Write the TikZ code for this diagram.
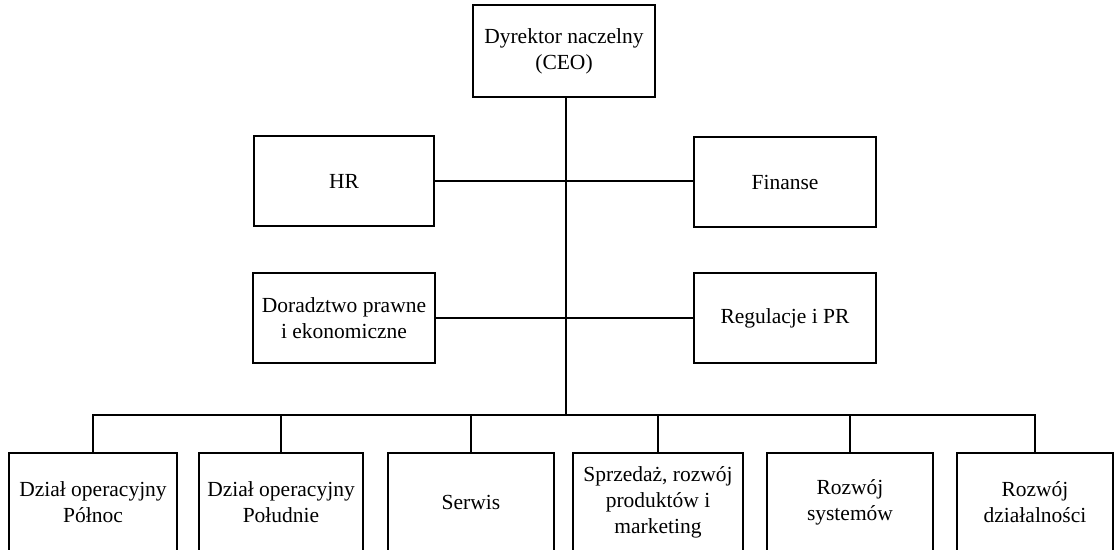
\documentclass[tikz,border=0pt]{standalone}
\usepackage{fontspec}
\setmainfont{Liberation Serif}
\begin{document}
\begin{tikzpicture}[x=1pt,y=-1pt,
  box/.style={draw,rectangle,line width=1.4pt,inner sep=0pt,align=center,
    font=\fontsize{21.5}{26}\selectfont},
  link/.style={line width=1.4pt}]
\useasboundingbox (0,0) rectangle (1115,549);
\clip (0,0) rectangle (1115,549);
\node[box,minimum width=182,minimum height=92] (ceo) at (564,51) {Dyrektor naczelny\\(CEO)};
\node[box,minimum width=180,minimum height=90] (hr) at (344,181) {HR};
\node[box,minimum width=182,minimum height=90] (fin) at (785,182) {Finanse};
\node[box,minimum width=182,minimum height=90] (dor) at (344,318) {Doradztwo prawne\\i ekonomiczne};
\node[box,minimum width=182,minimum height=90] (reg) at (785,318) {Regulacje i PR};
\node[box,minimum width=168,minimum height=98] (b1) at (93,502) {Dział operacyjny\\Północ};
\node[box,minimum width=164,minimum height=98] (b2) at (281,502) {Dział operacyjny\\Południe};
\node[box,minimum width=166,minimum height=98] (b3) at (471,502) {Serwis};
\node[box,minimum width=170,minimum height=98] (b4) at (658,502) {Sprzedaż, rozwój\\produktów i\\marketing};
\node[box,minimum width=166,minimum height=98] (b5) at (850,502) {Rozwój\\systemów};
\node[box,minimum width=156,minimum height=98] (b6) at (1035,502) {Rozwój\\działalności};
\coordinate (bus) at (566,415);
\draw[link] (ceo.south -| bus) -- (bus);
\draw[link] (hr.east) -- (fin.west |- hr.east);
\draw[link] (dor.east) -- (reg.west);
\draw[link] (b1.north) |- (bus) -| (b6.north);
\foreach \b in {b2,b3,b4,b5}{\draw[link] (\b.north) -- (\b.north |- bus);}
\end{tikzpicture}
\end{document}
